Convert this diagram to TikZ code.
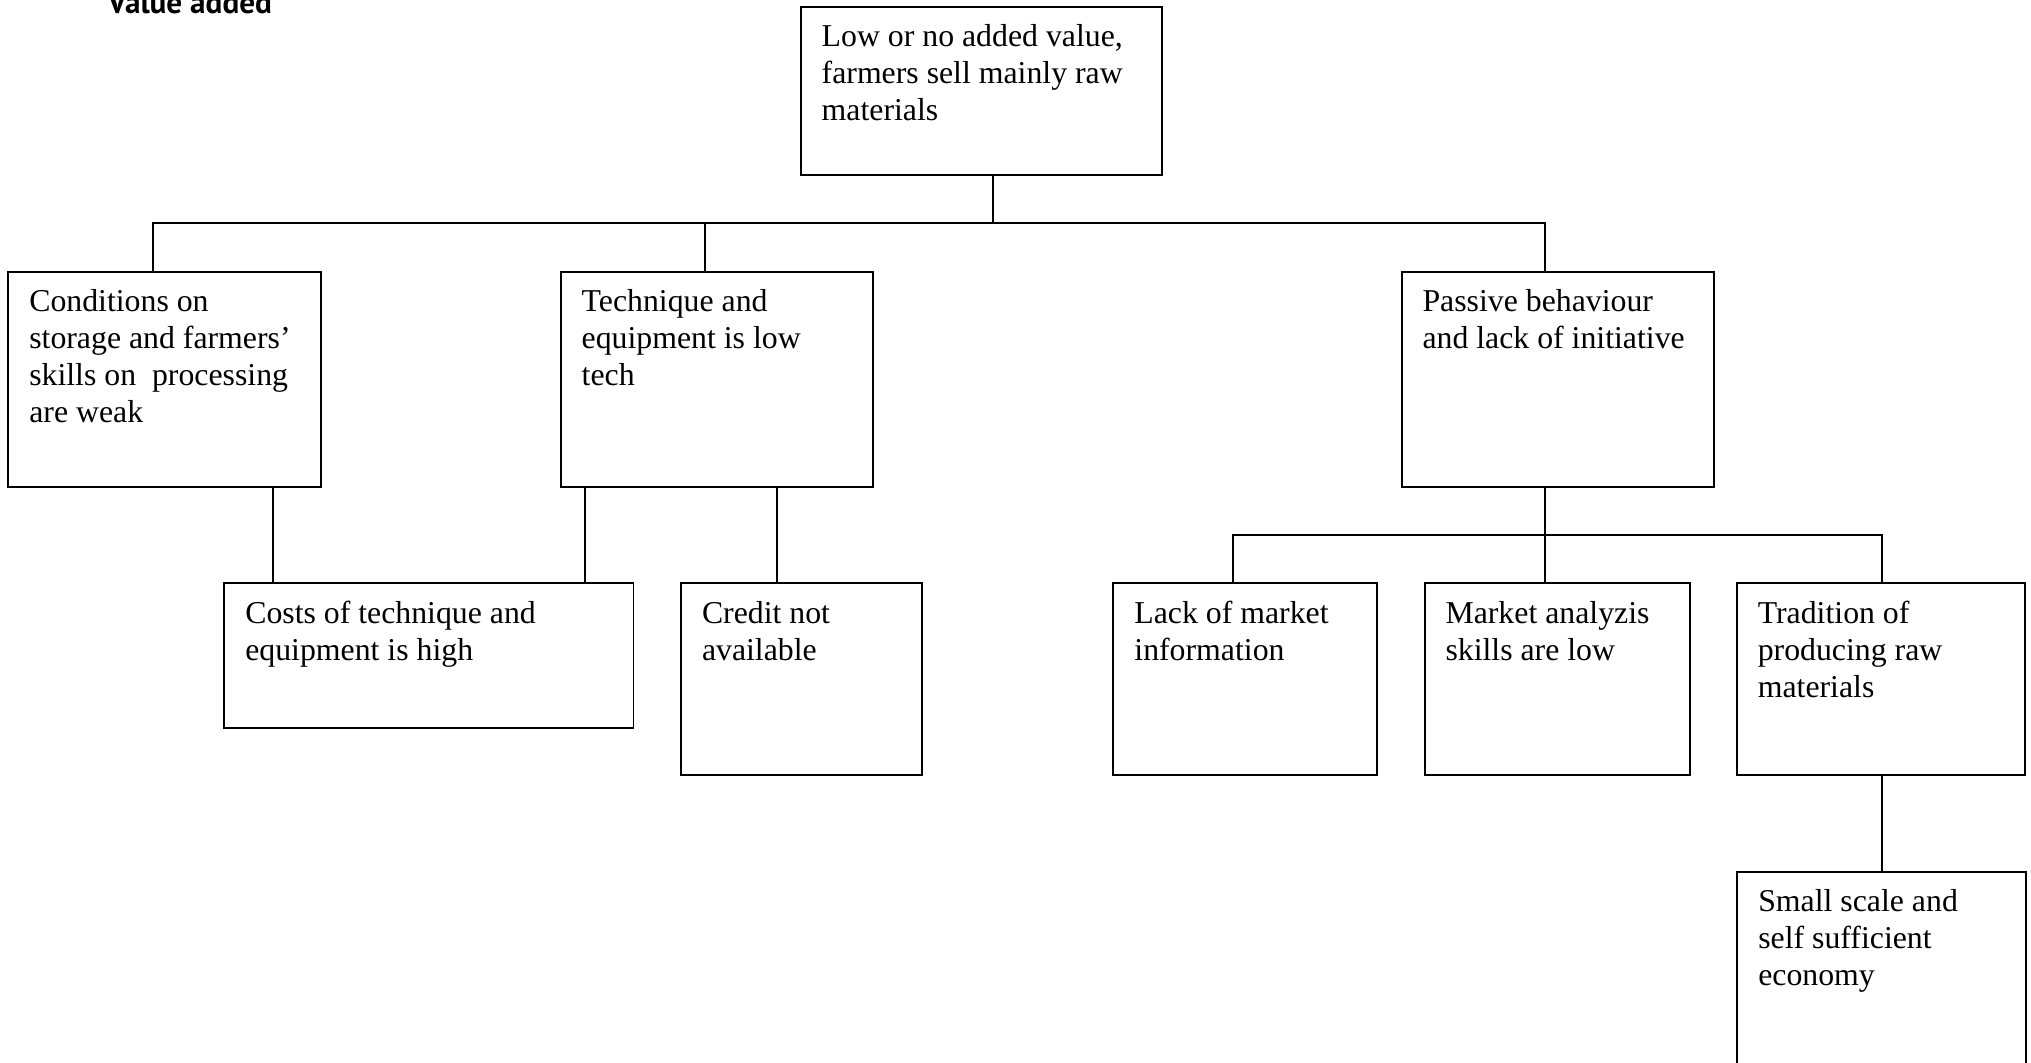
\documentclass[tikz,border=0pt]{standalone}
\usepackage{fontspec}
\setmainfont{Liberation Serif}
\newfontfamily\vafont{PT Sans}
\usetikzlibrary{fit,calc}
\begin{document}
\begin{tikzpicture}[x=0.3774pt,y=-0.3774pt,line width=0.75pt,
  box/.style={draw,line width=0.75pt,inner sep=0pt},
  txt/.style={inner sep=0pt,anchor=base west,font=\fontsize{12pt}{14pt}\selectfont},
  conn/.style={draw,line width=0.75pt}]
\useasboundingbox (0,0) rectangle (2031,1062);

% title (cut off at top, as in the reference)
\node[inner sep=0pt,anchor=base west] (title) at (107,13.3)
  {\resizebox{61.9pt}{!}{\vafont\bfseries Value added}};

% boxes
\node[box,fit={(800.7,6.7) (1162.3,175)}] (top) {};
\node[box,fit={(8.3,271.5) (321.3,487.3)}] (cond) {};
\node[box,fit={(560.7,271.5) (873.3,487.3)}] (tech) {};
\node[box,fit={(1401.5,271.5) (1713.7,487.3)}] (pass) {};
\node[box,fit={(224.3,583) (633.5,727.7)}] (costs) {};
\node[box,fit={(681,583) (921.7,775)}] (credit) {};
\node[box,fit={(1113.4,583) (1377,775)}] (lack) {};
\node[box,fit={(1424.5,583) (1689.5,775)}] (market) {};
\node[box,fit={(1736.8,583) (2024.8,775)}] (trad) {};
\node[box,fit={(1737.3,871.7) (2025.7,1110)}] (small) {};

% texts
\node[txt] (ttop) at ($(top.north west)+(21,41)$) {\parbox[t]{200pt}{\raggedright Low or no added value,\\farmers sell mainly raw\\materials}};
\node[txt] (tcond) at ($(cond.north west)+(21,41)$) {\parbox[t]{200pt}{\raggedright Conditions on\\storage and farmers’\\skills on\ \ processing\\are weak}};
\node[txt] (ttech) at ($(tech.north west)+(21,41)$) {\parbox[t]{200pt}{\raggedright Technique and\\equipment is low\\tech}};
\node[txt] (tpass) at ($(pass.north west)+(21,41)$) {\parbox[t]{200pt}{\raggedright Passive behaviour\\and lack of initiative}};
\node[txt] (tcosts) at ($(costs.north west)+(21,41)$) {\parbox[t]{200pt}{\raggedright Costs of technique and\\equipment is high}};
\node[txt] (tcredit) at ($(credit.north west)+(21,41)$) {\parbox[t]{200pt}{\raggedright Credit not\\available}};
\node[txt] (tlack) at ($(lack.north west)+(21,41)$) {\parbox[t]{200pt}{\raggedright Lack of market\\information}};
\node[txt] (tmarket) at ($(market.north west)+(21,41)$) {\parbox[t]{200pt}{\raggedright Market analyzis\\skills are low}};
\node[txt] (ttrad) at ($(trad.north west)+(21,41)$) {\parbox[t]{200pt}{\raggedright Tradition of\\producing raw\\materials}};
\node[txt] (tsmall) at ($(small.north west)+(21,41)$) {\parbox[t]{200pt}{\raggedright Small scale and\\self sufficient\\economy}};

% junction coordinates
\coordinate (hT) at (993.3,222.7);
\coordinate (hL) at (153.4,222.7);
\coordinate (hM) at (705,222.7);
\coordinate (hR) at (1545,222.7);
\coordinate (xA) at (272.8,0);
\coordinate (xB) at (585,0);
\coordinate (xC) at (777.3,0);
\coordinate (pT) at (1545,535);
\coordinate (pL) at (1232.8,535);
\coordinate (pR) at (1881.7,535);
\coordinate (xD) at (1881.7,0);

% connectors
\draw[conn] (top.south -| hT) -- (hT);
\draw[conn] (cond.north -| hL) -- (hL) -- (hR) -- (pass.north -| hR);
\draw[conn] (hM) -- (tech.north -| hM);
\draw[conn] (cond.south -| xA) -- (costs.north -| xA);
\draw[conn] (tech.south -| xB) -- (costs.north -| xB);
\draw[conn] (tech.south -| xC) -- (credit.north -| xC);
\draw[conn] (pass.south -| pT) -- (pT);
\draw[conn] (lack.north -| pL) -- (pL) -- (pR) -- (trad.north -| pR);
\draw[conn] (pT) -- (market.north -| pT);
\draw[conn] (trad.south -| xD) -- (small.north -| xD);
\end{tikzpicture}
\end{document}
